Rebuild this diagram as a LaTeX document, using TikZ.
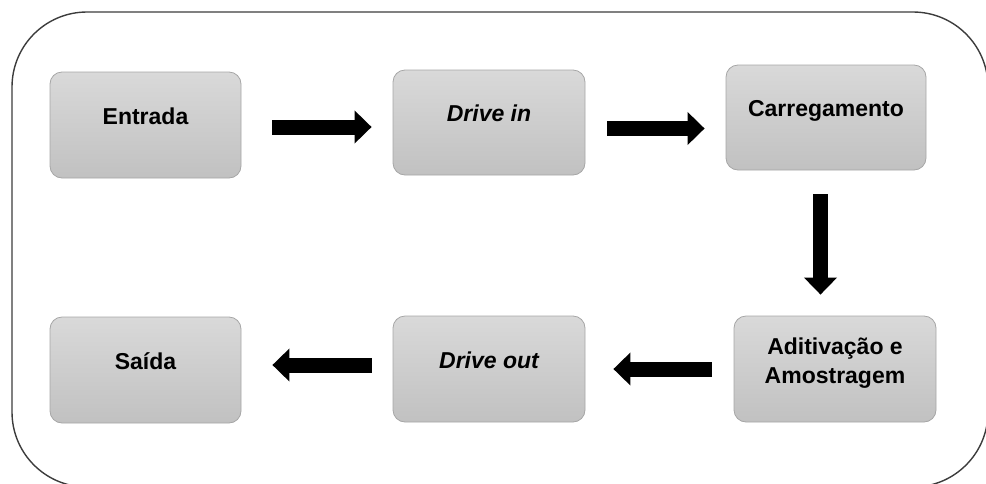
\documentclass[tikz,border=0pt]{standalone}
\usepackage{fontspec}
\setmainfont{Liberation Sans}
\usetikzlibrary{arrows.meta}

\definecolor{BoxTop}{HTML}{D9D9D9}
\definecolor{BoxBottom}{HTML}{C1C1C1}
\definecolor{BoxLine}{HTML}{A6A6A6}
\definecolor{FrameLine}{HTML}{3C3C3C}

\begin{document}
\begin{tikzpicture}[
  x=1pt, y=-1pt,
  every node/.style = {shape=rectangle, rounded corners=12pt, draw=BoxLine, line width=0.8pt,
    top color=BoxTop, bottom color=BoxBottom, align=center,
    font=\fontsize{23}{29}\selectfont\bfseries,
    minimum width=191pt, minimum height=106pt, text height=12pt, text depth=14pt}
  ]
  \useasboundingbox (0,0) rectangle (986,483);
  \begin{scope}
    \clip (0,0) rectangle (986,483);
    \draw[FrameLine, line width=1.4pt, rounded corners=75pt] (12,12) rectangle (988,487);
  \end{scope}

  \node (1) at (145.5,125) {Entrada};
  \node (2) at (489,122.5) [minimum width=192pt, minimum height=105pt] {\itshape Drive in};
  \node (3) at (826,117.5) [minimum width=200pt, minimum height=105pt] {Carregamento};
  \node (4) at (835,369) [minimum width=202pt, text height=40pt, text depth=12pt] {Aditivação e\\Amostragem};
  \node (5) at (489,369) [minimum width=192pt] {\itshape Drive out};
  \node (6) at (145.5,370) {Saída};

  \tikzset{BigArrow/.style = {black, line width=15pt, -{Triangle[length=17pt,width=32pt]}}}

  \draw[BigArrow, shorten <=31pt, shorten >=21pt]
    ([yshift=-2pt]1.east) -- ([yshift=-2pt]1.east -| 2.west);
  \draw[BigArrow, shorten <=22pt, shorten >=21pt]
    ([yshift=-6pt]2.east) -- ([yshift=-6pt]2.east -| 3.west);
  \draw[BigArrow, shorten <=24pt, shorten >=21pt]
    ([xshift=-5.5pt]3.south) -- ([xshift=-5.5pt]3.south |- 4.north);
  \draw[BigArrow, shorten <=22pt, shorten >=28pt]
    (4.west) -- (4.west -| 5.east);
  \draw[BigArrow, shorten <=21pt, shorten >=31pt]
    ([yshift=4pt]5.west) -- ([yshift=4pt]5.west -| 6.east);

\end{tikzpicture}
\end{document}
